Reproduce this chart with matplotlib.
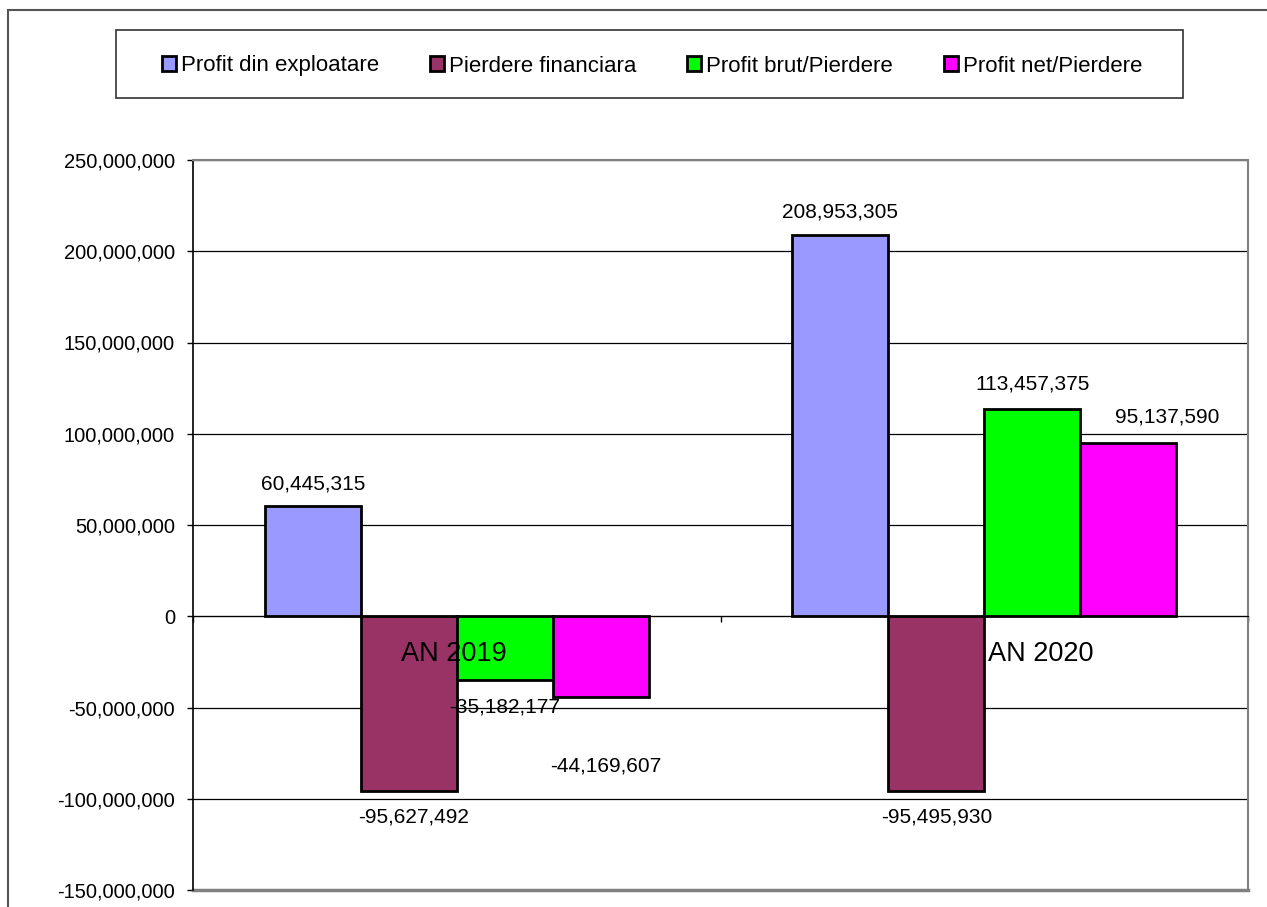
import matplotlib
matplotlib.use("Agg")
import matplotlib.pyplot as plt
from matplotlib.patches import Rectangle
from matplotlib.ticker import FuncFormatter, FixedLocator
import numpy as np

plt.rcParams['font.family'] = ['Liberation Sans', 'DejaVu Sans']

categories = ["AN 2019", "AN 2020"]
series_names = ["Profit din exploatare", "Pierdere financiara", "Profit brut/Pierdere", "Profit net/Pierdere"]
profit_exploatare = [60445315, 208953305]
pierdere_financiara = [-95627492, -95495930]
profit_brut = [-35182177, 113457375]
profit_net = [-44169607, 95137590]
series_values = [profit_exploatare, pierdere_financiara, profit_brut, profit_net]
colors = ["#9999FF", "#993366", "#00FF00", "#FF00FF"]
y_ticks = [-150000000, -100000000, -50000000, 0, 50000000, 100000000, 150000000, 200000000, 250000000]

# label offsets in pixels (dx, dy) per series per category
label_offsets = [
    [(0, 22), (0, 23)],
    [(5, -26), (0, -26)],
    [(0, -27), (0, 25)],
    [(5, -69), (39, 26)],
]
category_offsets = [(-3, -38), (56, -38)]

W, H = 1267, 907
fig = plt.figure(figsize=(W / 100, H / 100), dpi=100)
ax = fig.add_axes([193 / W, 1 - 890 / H, (1248 - 193) / W, (890 - 160) / H])

# outer figure border
fig.patches.append(Rectangle((8 / W, -0.05), 1.1, 1 - 10 / H + 0.05, transform=fig.transFigure,
                             fill=False, edgecolor="#555555", lw=1.5, zorder=0))
# legend box
fig.patches.append(Rectangle((116 / W, 1 - 98 / H), (1183 - 116) / W, 68 / H, transform=fig.transFigure,
                             fill=False, edgecolor="#333333", lw=1.2, zorder=0))

bw = 96 / 527.5
x = np.arange(len(categories)) + 0.5
handles = []
for k, (name, vals, c) in enumerate(zip(series_names, series_values, colors)):
    xs = x + (k - 1.5) * bw
    b = ax.bar(xs, vals, width=bw, color=c, edgecolor="black", linewidth=2, label=name, zorder=3)
    handles.append(b)
    for j, v in enumerate(vals):
        dx, dy = label_offsets[k][j]
        ax.annotate(f"{v:,.0f}", (xs[j], v), xytext=(dx * 0.72, dy * 0.72), textcoords="offset points",
                    ha="center", va="center", fontsize=15, zorder=5)

for j, cat in enumerate(categories):
    dx, dy = category_offsets[j]
    ax.annotate(cat, (x[j], 0), xytext=(dx * 0.72, dy * 0.72), textcoords="offset points",
                ha="center", va="center", fontsize=19.5, zorder=6)

ax.set_xlim(0, 2)
ax.set_ylim(-150000000, 250000000)
ax.yaxis.set_major_locator(FixedLocator(y_ticks))
ax.yaxis.set_major_formatter(FuncFormatter(lambda v, p: f"{v:,.0f}"))
ax.tick_params(axis="y", labelsize=14.5, length=4.3, width=1, direction="out", pad=8.6)
ax.yaxis.grid(True, color="black", lw=0.9, zorder=1)
ax.set_axisbelow(True)

ax.spines["bottom"].set_position(("data", 0))
ax.spines["bottom"].set_zorder(4)
ax.spines["left"].set_linewidth(1.2)
ax.spines["top"].set_color("#808080")
ax.spines["right"].set_color("#808080")
ax.spines["top"].set_linewidth(1.5)
ax.spines["right"].set_linewidth(1.5)
ax.axhline(-150000000, color="#808080", lw=2.5, zorder=2, clip_on=False)

ax.set_xticks([0, 1, 2])
ax.set_xticklabels(["", "", ""])
ax.tick_params(axis="x", which="major", length=4.3, width=1, direction="out")

fig.legend(handles=handles, labels=series_names, loc="center",
           bbox_to_anchor=(652 / W, 1 - 66 / H), ncol=4, frameon=False, fontsize=16,
           handlelength=0.63, handleheight=0.63, handletextpad=0.22, columnspacing=2.3)

fig.savefig("out.png", dpi=100)
